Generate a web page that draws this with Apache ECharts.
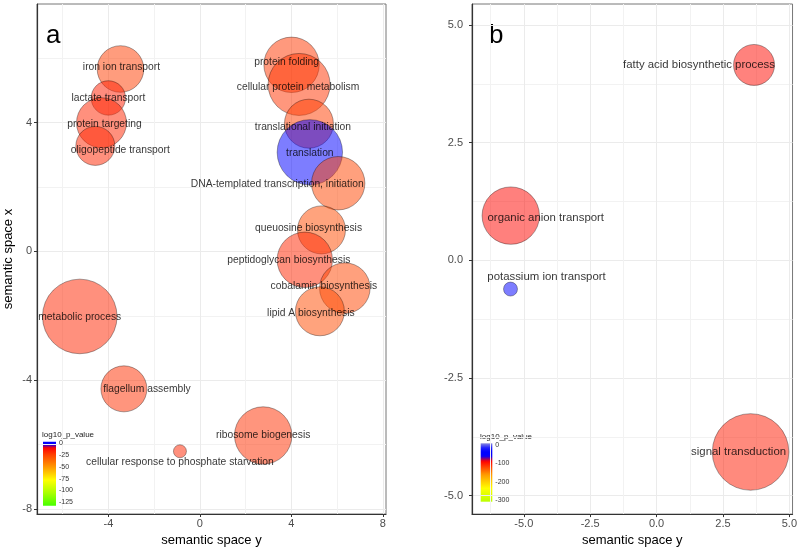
<!DOCTYPE html>
<html><head><meta charset="utf-8">
<script src="https://cdn.jsdelivr.net/npm/echarts@6/dist/echarts.min.js"></script>
<style>html,body{margin:0;padding:0;background:#fff}#c{width:800px;height:552px}</style>
</head><body><div id="c"></div>
<script>
// ---------- Panel a data ----------
const termsA = ["iron ion transport","lactate transport","protein targeting","oligopeptide transport",
  "protein folding","cellular protein metabolism","translational initiation","translation",
  "DNA-templated transcription, initiation","queuosine biosynthesis","peptidoglycan biosynthesis",
  "cobalamin biosynthesis","lipid A biosynthesis","metabolic process","flagellum assembly",
  "cellular response to phosphate starvation","ribosome biogenesis"];
const semYA = [-3.47,-4.00,-4.30,-4.57, 4.01,4.34,4.77,4.81, 6.05,5.32,4.59, 6.34,5.25,-5.25,-3.32, -0.87,2.77];
const semXA = [ 5.67, 4.77, 4.00, 3.28, 5.80,5.19,3.97,3.08, 2.12,0.67,-0.26,-1.14,-1.86,-2.02,-4.27,-6.21,-5.72];
const logPA = [-23,-16,-18,-18, -22,-21,-23,0, -25,-27,-18, -25,-27,-18,-20, -18,-20];
const plotSizeA = [23.3,17.2,25,19.5, 27.7,31,24.5,32.7, 26.7,24,27.7, 25.3,24.5,37.3,23, 6.5,28.7];

// ---------- Panel b data ----------
const termsB = ["fatty acid biosynthetic process","organic anion transport","potassium ion transport","signal transduction"];
const semYB = [3.67,-5.49,-5.50,3.54];
const semXB = [4.15,0.95,-0.61,-4.07];
const logPB = [-93,-91,-45,-100];
const plotSizeB = [20.5,28.7,7,38.3];

// ---------- tick values ----------
const ticksA = [-8,-4,0,4,8];
const minorA = [-6,-2,2,6];
const ticksB = [-5,-2.5,0,2.5,5];
const minorB = [-6.25,-3.75,-1.25,1.25,3.75];
const legendTicksA = [0,-25,-50,-75,-100,-125];
const legendTicksB = [0,-100,-200,-300];

// ---------- styling (label shifts in px) ----------
const labelShiftA = [[1,-2],[0,0],[3,1],[25,4],[-5,-3],[-1,3],[-6,3],[0,1],[-61,1],[-13,-2],[-16,0],[-21,-2],[-9,2],[0,1],[23,0],[0,11],[0,0]];
const labelShiftB = [[-55,0],[35,2],[36,-12],[-12,0]];

const stopsA = [[-133,'#44ff00'],[-105,'#aaff00'],[-78,'#ffff00'],[-50,'#ff9900'],[-25,'#ff4400'],[-9,'#ff0000'],[-2.5,'#0000ff'],[3.4,'#0000ff']];
const stopsB = [[-308,'#bbff00'],[-235,'#ffff00'],[-160,'#ff9900'],[-88,'#ff0000'],[-60,'#0000ff'],[-35,'#0000ff'],[-15,'#2222ff'],[9.2,'#8888dd']];
const limA = [-132.2, 3.4], limB = [-307.6, 9.2];

function rgb(h){return [parseInt(h.slice(1,3),16),parseInt(h.slice(3,5),16),parseInt(h.slice(5,7),16)];}
function colorAt(stops,v){
  if(v<=stops[0][0]) return rgb(stops[0][1]);
  for(let i=1;i<stops.length;i++){
    if(v<=stops[i][0]){
      const t=(v-stops[i-1][0])/(stops[i][0]-stops[i-1][0]);
      const a=rgb(stops[i-1][1]), b=rgb(stops[i][1]);
      return a.map((c,k)=>Math.round(c+(b[k]-c)*t));
    }
  }
  return rgb(stops[stops.length-1][1]);
}
function rangeColors(stops,lim,n,alpha){
  const out=[];
  for(let i=0;i<n;i++){const v=lim[0]+(lim[1]-lim[0])*i/(n-1);const c=colorAt(stops,v);out.push('rgba('+c.join(',')+','+alpha+')');}
  return out;
}
function gradient(stops,lim){
  const cs=[];
  for(let i=0;i<=40;i++){const v=lim[1]-(lim[1]-lim[0])*i/40;const c=colorAt(stops,v);cs.push({offset:i/40,color:'rgb('+c.join(',')+')'});}
  return new echarts.graphic.LinearGradient(0,0,0,1,cs);
}

const FONT = '"Liberation Sans", Arial, Helvetica, sans-serif';

function buildData(terms,xs,ys,ps,ss,shifts,fs){
  return terms.map((t,i)=>({
    name:t, value:[xs[i],ys[i],ps[i],ss[i]],
    label:{show:true,formatter:t,position:'inside',offset:shifts[i],color:'#000',fontSize:fs,fontFamily:FONT}
  }));
}

function dataAxis(grid,min,max,ticks,fmt,labelMargin){
  return {
    type:'value',gridIndex:grid,min:min,max:max,
    axisLine:{show:true,onZero:false,lineStyle:{color:'#333',width:1.2}},
    axisTick:{show:true,length:3,customValues:ticks,lineStyle:{color:'#333'}},
    axisLabel:{customValues:ticks,formatter:fmt,color:'#4d4d4d',fontSize:11,fontFamily:FONT,margin:labelMargin},
    splitLine:{show:true,lineStyle:{color:'#ebebeb',width:1}}
  };
}
function minorAxis(grid,min,max,minor){
  return {
    type:'value',gridIndex:grid,min:min,max:max,
    axisLine:{show:false},axisTick:{show:false,customValues:minor},
    axisLabel:{show:false},
    splitLine:{show:true,lineStyle:{color:'#f2f2f2',width:1}}
  };
}
const fmtA = v=>String(v);
const fmtB = v=>v.toFixed(1);
const nameStyle = {fontSize:13,color:'#000',fontFamily:FONT};

const xA = dataAxis(0,-7.12,8.14,ticksA,fmtA,4);
Object.assign(xA,{name:'semantic space y',nameLocation:'middle',nameGap:19,nameTextStyle:nameStyle});
const yA = dataAxis(0,-8.16,7.69,ticksA,fmtA,5);
Object.assign(yA,{name:'semantic space x',nameLocation:'middle',nameGap:22,nameTextStyle:nameStyle});
const xB = dataAxis(1,-6.95,5.12,ticksB,fmtB,4);
Object.assign(xB,{name:'semantic space y',nameLocation:'middle',nameGap:19,nameTextStyle:nameStyle});
const yB = dataAxis(1,-5.39,5.445,ticksB,fmtB,9);

function legendAxisY(grid,lim,ticks){
  return {type:'value',gridIndex:grid,min:lim[0],max:lim[1],position:'right',
    axisLine:{show:false},axisTick:{show:false,customValues:ticks},splitLine:{show:false},
    axisLabel:{customValues:ticks,color:'#333',fontSize:7,fontFamily:FONT,margin:3}};
}
function legendAxisX(grid){return {type:'value',gridIndex:grid,show:false,min:0,max:1};}

const option = {
  animation:false,
  backgroundColor:'#fff',
  grid:[
    {left:37,top:4,width:349,height:510,show:true,borderColor:'#777',borderWidth:1,backgroundColor:'transparent'},
    {left:472,top:4,width:322,height:511,show:true,borderColor:'#777',borderWidth:1,backgroundColor:'transparent'},
    {left:43,top:441.7,width:13,height:64},
    {left:480.7,top:443.3,width:11.6,height:58.4}
  ],
  xAxis:[xA,minorAxis(0,-7.12,8.14,minorA),xB,minorAxis(1,-6.95,5.12,minorB),legendAxisX(2),legendAxisX(3)],
  yAxis:[yA,minorAxis(0,-8.16,7.69,minorA),yB,minorAxis(1,-5.39,5.445,minorB),legendAxisY(2,limA,legendTicksA),legendAxisY(3,limB,legendTicksB)],
  visualMap:[
    {type:'continuous',show:false,seriesIndex:0,dimension:2,min:limA[0],max:limA[1],inRange:{color:rangeColors(stopsA,limA,160,0.64)}},
    {type:'continuous',show:false,seriesIndex:1,dimension:2,min:limB[0],max:limB[1],inRange:{color:rangeColors(stopsB,limB,160,0.64)}}
  ],
  series:[
    {type:'scatter',xAxisIndex:0,yAxisIndex:0,symbol:'circle',
     symbolSize:v=>2*v[3],
     itemStyle:{borderColor:'rgba(0,0,0,0.6)',borderWidth:0.7},
     emphasis:{disabled:true},
     data:buildData(termsA,semYA,semXA,logPA,plotSizeA,labelShiftA,10.3)},
    {type:'scatter',xAxisIndex:2,yAxisIndex:2,symbol:'circle',
     symbolSize:v=>2*v[3],
     itemStyle:{borderColor:'rgba(0,0,0,0.6)',borderWidth:0.7},
     emphasis:{disabled:true},
     data:buildData(termsB,semYB,semXB,logPB,plotSizeB,labelShiftB,11.4)}
  ],
  graphic:[
    {type:'text',left:46,top:23,style:{text:'a',fontSize:26,fontFamily:FONT,fill:'#000'}},
    {type:'text',left:489,top:23,style:{text:'b',fontSize:26,fontFamily:FONT,fill:'#000'}},
    {type:'text',left:42,top:431,style:{text:'log10_p_value',fontSize:8,fontFamily:FONT,fill:'#222'}},
    {type:'text',left:480,top:433,style:{text:'log10_p_value',fontSize:8,fontFamily:FONT,fill:'#222'}},
    {type:'rect',shape:{x:43,y:441.7,width:13,height:64},style:{fill:gradient(stopsA,limA)}},
    {type:'rect',shape:{x:480.7,y:443.3,width:11.6,height:58.4},style:{fill:gradient(stopsB,limB)}}
  ]
};
const chart = echarts.init(document.getElementById('c'),null,{renderer:'canvas'});
chart.setOption(option);
</script></body></html>
